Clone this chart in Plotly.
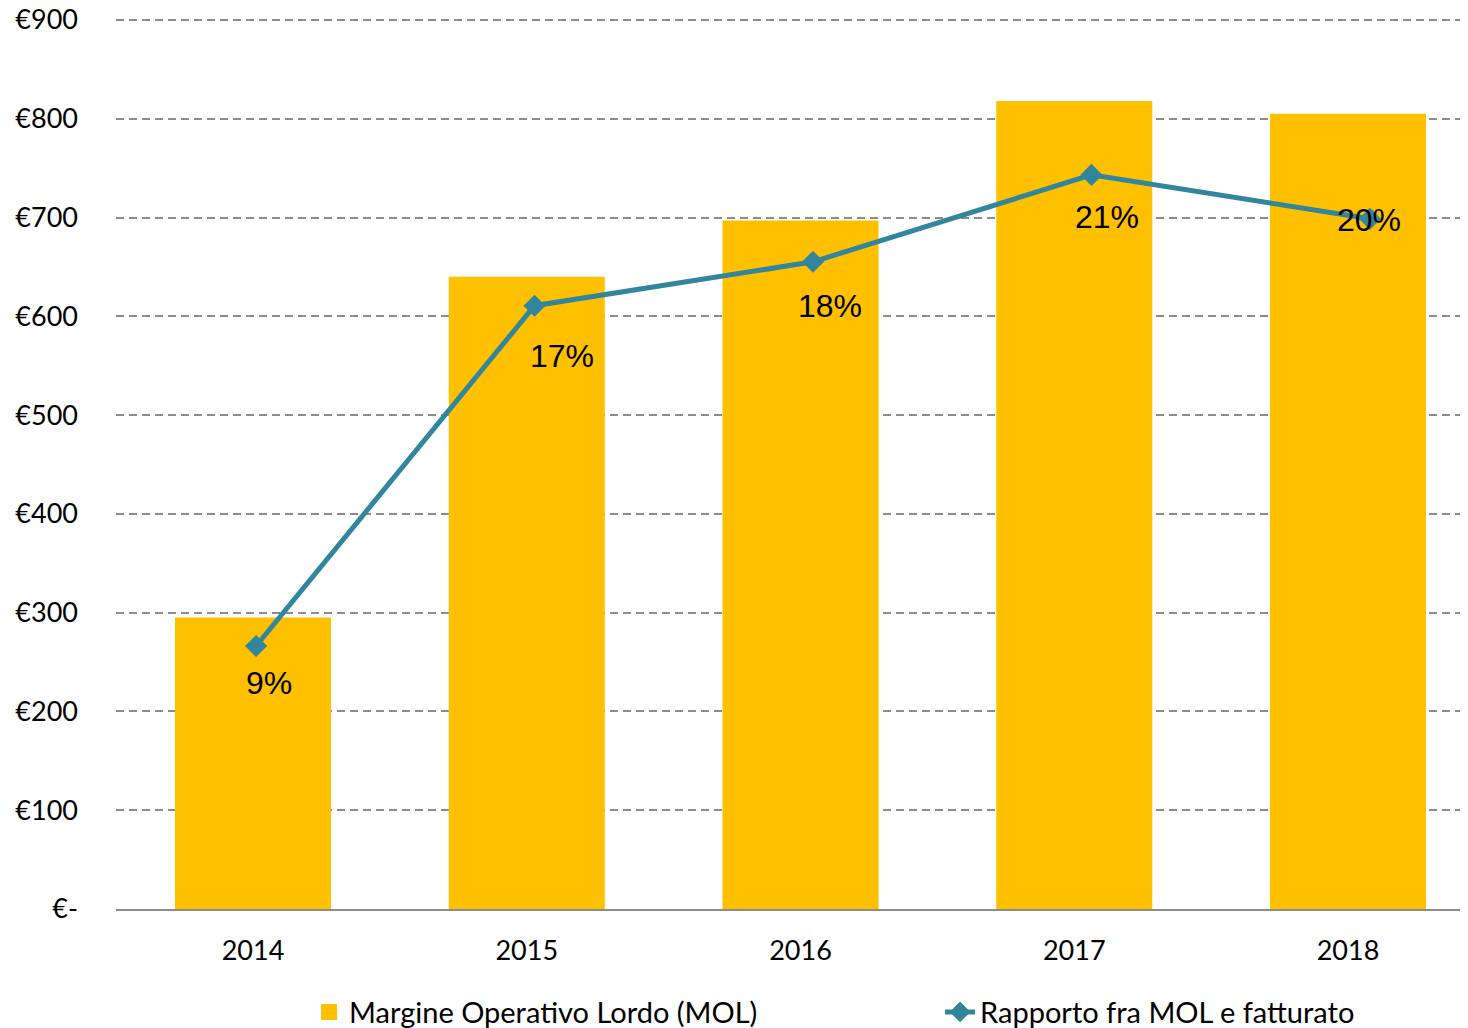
import plotly.graph_objects as go

years = ["2014", "2015", "2016", "2017", "2018"]
mol_values = [295, 640, 697, 818, 805]
ratio_values = [0.091, 0.174, 0.1847, 0.2059, 0.1952]
ratio_labels = ["9%", "17%", "18%", "21%", "20%"]
y_tick_vals = [0, 100, 200, 300, 400, 500, 600, 700, 800, 900]
y_tick_text = ["€-", "€100", "€200", "€300", "€400", "€500", "€600", "€700", "€800", "€900"]

BAR_COLOR = "#FFC000"
LINE_COLOR = "#31859C"
GRID_COLOR = "#8C8C8C"
TICK_FONT = dict(family="Lato", size=27, color="#000000")
LEGEND_FONT = dict(family="Lato", size=29, color="#000000")
LABEL_FONT = dict(family="Liberation Sans", size=32, color="#000000")

fig = go.Figure()

fig.add_trace(go.Bar(
    x=years, y=mol_values, name="Margine Operativo Lordo (MOL)",
    marker=dict(color=BAR_COLOR, line=dict(width=0)),
    width=0.57, showlegend=False,
))
# legend entry for the bars (larger square swatch)
fig.add_trace(go.Scatter(
    x=[None], y=[None], mode="markers", name="Margine Operativo Lordo (MOL)",
    marker=dict(symbol="square", size=18, color=BAR_COLOR),
    legend="legend",
))
fig.add_trace(go.Scatter(
    x=years, y=ratio_values, name="Rapporto fra MOL e fatturato",
    mode="lines+markers", xaxis="x2", yaxis="y2",
    line=dict(color=LINE_COLOR, width=5),
    marker=dict(symbol="diamond", size=17, color=LINE_COLOR),
    legend="legend2",
))

label_offsets = [(13, -37), (27, -50), (17, -44), (16, -42), (-1, -1)]
for i, (v, txt, (dx, dy)) in enumerate(zip(ratio_values, ratio_labels, label_offsets)):
    fig.add_annotation(
        x=i, y=v, xref="x2", yref="y2", text=txt, showarrow=False,
        xshift=dx, yshift=dy, font=LABEL_FONT,
        xanchor="center", yanchor="middle",
    )

fig.update_layout(
    width=1460, height=1020,
    margin=dict(l=108, r=2, t=9, b=119, autoexpand=False),
    plot_bgcolor="white", paper_bgcolor="white",
    xaxis=dict(
        type="category", range=[-0.5005, 4.431], automargin=False,
        showline=True, linecolor=GRID_COLOR, linewidth=2,
        showgrid=False, ticks="", tickfont=TICK_FONT,
        ticklabelstandoff=17, ticklabeloverflow="allow",
    ),
    xaxis2=dict(
        type="category", overlaying="x", range=[-0.503, 4.345],
        showticklabels=False, showgrid=False, zeroline=False, showline=False,
        ticks="", automargin=False,
    ),
    yaxis=dict(
        range=[0, 903], tickvals=y_tick_vals, ticktext=y_tick_text,
        showgrid=True, gridcolor=GRID_COLOR, gridwidth=1.5, griddash="8px,5px",
        zeroline=False, showline=False, ticks="", tickfont=TICK_FONT,
        ticklabelstandoff=37, automargin=False, ticklabeloverflow="allow",
    ),
    yaxis2=dict(
        overlaying="y", side="right", range=[0.02685, 0.24441],
        showticklabels=False, showgrid=False, zeroline=False, showline=False,
        ticks="", automargin=False,
    ),
    legend=dict(
        orientation="h", x=0.143, xanchor="left", y=-0.1155, yanchor="middle",
        font=LEGEND_FONT, bgcolor="rgba(0,0,0,0)",
    ),
    legend2=dict(
        orientation="h", x=0.6104, xanchor="left", y=-0.1155, yanchor="middle",
        font=LEGEND_FONT, bgcolor="rgba(0,0,0,0)",
    ),
)

fig.write_html("out.html")
